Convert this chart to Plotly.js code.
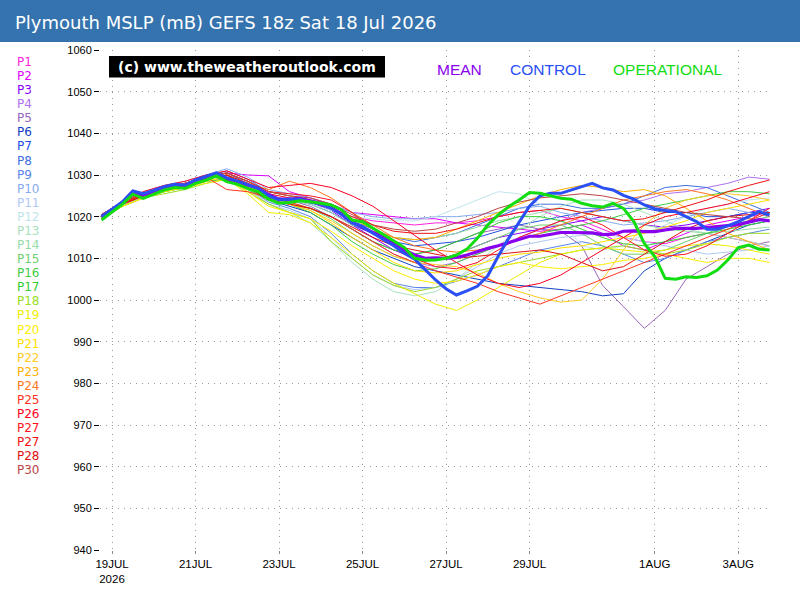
<!DOCTYPE html>
<html>
<head>
<meta charset="utf-8">
<script src="https://cdn.plot.ly/plotly-3.0.1.min.js"></script>
<style>html,body{margin:0;padding:0;background:#fff;}#chart{width:800px;height:600px;}</style>
</head>
<body>
<div id="chart"></div>
<script>
// ---- Data ----
var titleText = "Plymouth MSLP (mB) GEFS 18z Sat 18 Jul 2026";
var tickVals = ["2026-07-19 00:00","2026-07-21 00:00","2026-07-23 00:00","2026-07-25 00:00","2026-07-27 00:00","2026-07-29 00:00","2026-08-01 00:00","2026-08-03 00:00"];
var tickText = ["19JUL<br>2026","21JUL","23JUL","25JUL","27JUL","29JUL","1AUG","3AUG"];

var memberNames = ["P1","P2","P3","P4","P5","P6","P7","P8","P9","P10","P11","P12","P13","P14","P15","P16","P17","P18","P19","P20","P21","P22","P23","P24","P25","P26","P27","P27","P28","P30"];
var memberColors = ["#ff22dd","#dd00ff","#8800ff","#b070f0","#9966bb","#1040c0","#2050e0","#4070e0","#5a86ea","#88aaf0","#b0c8f4","#c0e4ec","#a8e0c0","#98dca8","#70d070","#44cc44","#33cc33","#99dd22","#eeee00","#ffee00","#ffe000","#ffcc22","#ffb000","#ff7722","#ff3322","#ff0022","#ff1122","#ee1111","#dd1111","#bb4444"];

// members: 12-hourly from 18 Jul 18z to 3 Aug 18z (33 values)
var P1  = [1020.5,1023.5,1025.5,1027,1028,1029.5,1030.5,1028.5,1026,1025,1024,1022,1020,1019,1018.5,1018,1018.5,1018.5,1019,1020,1021,1021.5,1020,1019,1017,1015,1014,1013.5,1015,1016,1015,1014,1013];
var P2  = [1020,1023,1025,1026.5,1027.5,1029,1030.5,1030,1029.8,1026,1024.5,1023,1021,1020.5,1020,1019.5,1019.5,1018.5,1018,1017.5,1017,1016.5,1017,1018,1016,1013,1012,1014,1016,1018,1019,1020,1021];
var P3  = [1020,1023,1025,1026.5,1027,1028.5,1029.5,1027,1024.5,1024,1023.5,1021.5,1018,1015,1012,1010,1009.5,1011,1013,1015,1016,1017,1018,1019,1020,1019,1018,1017.5,1018,1019,1020,1021,1022];
var P4  = [1019.5,1022.5,1025,1026,1027,1028.5,1029,1027,1024,1023,1022,1020,1017,1014,1011,1009,1008,1009,1011,1013,1015,1017,1019,1021,1022,1023,1024,1025.5,1026,1027,1028,1029.5,1029];
var P5  = [1020,1023,1025.5,1027,1027.5,1029,1030,1028,1025,1024,1022.5,1020,1017,1014,1012,1011,1012,1014,1016,1017,1018,1017,1016.5,1013,1003.5,998.4,993.2,997.5,1005,1008,1011,1013,1014];
var P6  = [1020,1023,1025,1026.5,1027.5,1029,1030,1027.5,1024,1022.5,1021,1018,1015,1012,1010,1008,1007,1006,1005,1004,1003.5,1003,1002.5,1002,1001,1001.5,1007,1010,1012,1014,1016,1018,1019];
var P7  = [1020.5,1023.5,1025.5,1027,1028,1029.5,1030.5,1028,1025,1024,1023,1021,1018,1016,1014,1013,1013.5,1014,1015,1016.5,1018,1019,1020,1021,1021.5,1022,1022,1021,1021,1020,1020,1021,1021];
var P8  = [1020,1023,1025.5,1027,1028,1029.5,1031,1029,1026,1025,1024,1022,1019,1017,1015,1014,1015,1016,1018,1020,1022,1023,1023,1022,1022,1023,1025,1027,1027.5,1027,1025,1023,1021];
var P9  = [1019.5,1022.5,1024.5,1026,1027,1028.5,1029.5,1027,1023.5,1022,1020,1016,1011,1007,1004,1003,1003,1004.5,1006,1008,1010,1012,1013,1014,1013,1011,1009,1010,1012,1014,1015,1016,1017];
var P10 = [1020.5,1023.5,1026,1027.5,1028.5,1030,1031.5,1029.5,1026.5,1025.5,1024.5,1023,1021,1020,1019.5,1019.5,1020,1020,1020.5,1021,1022,1022.5,1021,1020,1019,1018,1018.5,1019,1020,1021,1022,1021,1020];
var P11 = [1020,1023,1025,1026.5,1027.5,1029,1030,1027,1023,1021.5,1019.5,1015,1010,1006,1003.5,1002.5,1003,1005,1008,1011,1013,1014,1015,1015.5,1016,1015,1014,1013,1012,1011,1011.5,1012,1013];
var P12 = [1020,1023,1025,1026.5,1027.5,1029,1030,1027.5,1025,1024,1023,1021.5,1020,1019.5,1019,1019,1020,1022,1024,1026,1025.5,1023,1019,1013,1012,1013,1016,1018,1020,1022,1023,1024,1024.5];
var P13 = [1019.5,1022.5,1024.5,1026,1027,1028.5,1029.5,1026.5,1023,1021,1018.5,1014,1009,1005,1002,1001,1002,1005,1009,1013,1017,1020,1022.5,1024,1024,1023,1021,1019,1017,1016,1015,1014,1013];
var P14 = [1020,1023,1025,1026.5,1027.5,1029,1030,1028,1025,1024,1023,1021,1018,1016.5,1015,1014.5,1015,1016,1017.5,1019,1020,1021,1022,1021,1020,1019,1018,1017,1016.5,1016,1016.5,1017,1017.5];
var P15 = [1020,1023,1025,1026,1027,1028.5,1029.5,1027,1024.5,1023.5,1022,1019.5,1016,1013,1010.5,1009,1009.5,1011,1013,1015,1017,1018,1018,1016,1013,1011,1011,1012,1014,1016,1018,1019,1020];
var P16 = [1019.5,1022.5,1024.5,1026,1027,1028.5,1029,1026.5,1024,1023,1021,1018,1014,1011,1008.5,1007,1007.5,1009,1011,1013,1014.5,1016,1017,1018,1019,1020.5,1022,1023,1024,1025,1026,1026,1025.5];
var P17 = [1020,1023,1025,1026.5,1027.5,1029,1030,1027.5,1024.5,1023,1022,1020,1017,1014,1012,1011,1012,1014,1016,1018.5,1020,1020,1019,1017,1015,1013.5,1013,1014,1015,1016,1017,1018,1019];
var P18 = [1019.5,1022.5,1024.5,1025.5,1026.5,1028,1029,1026,1023,1021,1019.5,1014,1010,1006,1003.5,1002,1003,1005,1007,1008,1009,1010,1011,1012,1012.5,1013,1012,1011,1012,1013.5,1015,1016,1016];
var P19 = [1019.5,1022.5,1024.5,1026,1027,1028,1029,1025.5,1021,1020.5,1018.5,1015,1011,1007,1004,1001.5,999,997.5,1000,1003,1006,1009,1011,1012,1012.5,1012,1011.5,1012,1013,1013.5,1013,1012,1011];
var P20 = [1020,1022.5,1024.5,1026,1027,1028.5,1029.5,1026,1022.5,1021,1019.5,1016.5,1013,1010,1007,1005,1004,1004.5,1006,1008,1009,1008,1007.5,1008,1008.5,1009.5,1010,1011,1010,1009,1010,1010,1009];
var P21 = [1020,1023,1025,1026.5,1027.5,1029,1030,1027,1024,1023,1021.5,1018.5,1015,1012,1009,1007,1006.5,1007,1008.5,1010,1011,1011.5,1012.5,1013,1014,1015,1016,1017.5,1019,1021,1022,1023,1024];
var P22 = [1020,1023,1025,1026.5,1027.5,1029,1030,1027.5,1024.5,1023,1021.5,1019,1016,1013,1010.5,1009,1008.5,1008,1006.5,1004,1002,1000.5,999.5,1000,1005,1012,1018,1022,1024,1025,1025.5,1025,1024];
var P23 = [1020,1023,1025.5,1027,1028,1029.5,1030.5,1028.5,1026,1025,1024,1022,1019.5,1017,1015,1014.5,1015,1017,1019,1021,1023,1025,1026.5,1027.5,1027,1026,1026.5,1025,1022,1019,1016,1014,1012];
var P24 = [1020.5,1023.5,1025.5,1027,1028,1029.5,1030,1028,1026.5,1028.5,1027,1024.5,1021,1018,1015,1013,1012,1011.5,1012,1013,1014.5,1016,1018,1020,1022,1024,1025,1026,1026.5,1025.5,1024,1022,1020];
var P25 = [1020,1023,1025.5,1027,1028,1029.5,1026.5,1026,1024.5,1023.5,1022,1020,1017,1014,1011,1009,1007,1005.5,1004,1002,1000.5,999,1001,1003,1005,1007,1009,1011,1013,1015,1017,1019,1021];
var P26 = [1020.5,1023.5,1026,1027.5,1028.5,1030,1031,1029,1027,1027.5,1028,1027,1025,1022.5,1019,1015.5,1012,1009,1006,1004,1003,1004,1006,1009,1012,1015,1018,1020,1021,1022,1023,1024.5,1026];
var P27a= [1020,1023,1025.5,1027,1028,1029.5,1030.5,1028.5,1026,1025.5,1025,1024,1021,1017,1013,1010,1008,1007.5,1009,1012,1015,1017,1019,1020,1018,1015,1012,1010.5,1011,1013,1016,1019,1022];
var P27b= [1020,1023,1025,1026.5,1027.5,1029,1030,1028,1025.5,1024.5,1023.5,1022,1020,1018,1016.5,1016,1016,1017,1018.5,1020,1021,1021.5,1022,1021,1020,1019,1019.5,1021,1022.5,1024,1026,1027.5,1028.8];
var P28 = [1020,1023,1025,1026.5,1027.5,1029,1030,1027,1024,1023,1022,1020,1017.5,1015,1013,1012,1011,1010,1010.5,1011,1011.5,1012,1011,1009,1007,1008,1011,1014,1017,1019,1020,1020.5,1021];
var P30 = [1020.5,1023.5,1025.5,1027,1028,1029.5,1030.5,1028.5,1026,1025,1024.5,1023,1020.5,1018,1017,1016.5,1017,1018.5,1020,1022,1023.5,1024.5,1025,1025.5,1025,1024,1023,1022,1021,1020.5,1020,1019.5,1019];
var members = [P1,P2,P3,P4,P5,P6,P7,P8,P9,P10,P11,P12,P13,P14,P15,P16,P17,P18,P19,P20,P21,P22,P23,P24,P25,P26,P27a,P27b,P28,P30];

// thick lines: 6-hourly (65 values)
var meanVals = [1020,1021.6,1023.3,1026,1025.2,1026,1026.9,1027.5,1027.4,1028.5,1029.3,1030.3,1029,1028.4,1027.5,1026.8,1025.3,1024.2,1024.2,1024.4,1023.8,1023.2,1022.3,1020.6,1018.6,1017.5,1016.2,1015,1013.4,1012,1010.8,1010,1010.1,1010,1010.2,1010.8,1011.6,1012.4,1013,1013.8,1014.6,1015.3,1015.3,1015.8,1016.2,1016.2,1016.2,1016.1,1015.7,1015.8,1016.5,1016.6,1016.4,1016.4,1016.8,1017.2,1017.2,1017.2,1017.4,1017.6,1017.9,1018.1,1018.7,1019.3,1019];
var controlVals = [1020,1021.8,1023.6,1026.2,1025.5,1026.3,1027.2,1027.8,1027.6,1028.8,1029.6,1030.5,1029.3,1028.6,1027.7,1026.8,1025,1024,1024.2,1024.2,1023.5,1023,1022,1020.5,1018.5,1017.6,1016,1014.5,1013,1011.2,1009.8,1007.3,1004.8,1002.7,1001.2,1002.2,1003.3,1005.8,1010.5,1014.8,1018.5,1022.5,1025,1025.6,1025.6,1026.4,1027.2,1028,1026.9,1026.4,1025.1,1024.2,1022.8,1021.9,1021.5,1021.2,1020,1018.8,1017,1017,1017.8,1018.8,1020,1021.2,1020.4];
var operVals = [1019.2,1021,1023,1025.4,1024.4,1025.4,1026.4,1027,1026.8,1028,1028.8,1029.8,1028.4,1027.8,1026.8,1026,1024.2,1023.2,1023.4,1023.8,1023.6,1023.2,1022.8,1021.6,1019.2,1018.8,1017.2,1015.6,1014,1012.6,1010,1009.6,1009.6,1010,1010.8,1012.2,1014.8,1018,1020.4,1022.4,1024,1025.8,1025.6,1025,1024.4,1024.2,1023.2,1022.6,1022.3,1023.2,1022,1018.8,1013.6,1010.4,1005.2,1005,1005.6,1005.4,1005.8,1007.2,1009.6,1012.6,1013.2,1012.2,1012];

// ---- time axis values ----
function fmt(d){
  function p(n){return (n<10?'0':'')+n;}
  return d.getUTCFullYear()+'-'+p(d.getUTCMonth()+1)+'-'+p(d.getUTCDate())+' '+p(d.getUTCHours())+':00';
}
function times(stepHours, n){
  var t0 = Date.UTC(2026,6,18,18,0,0), out=[];
  for(var i=0;i<n;i++){ out.push(fmt(new Date(t0 + i*stepHours*3600000))); }
  return out;
}
var t12 = times(12, 33), t6 = times(6, 65);

// ---- traces ----
var traces = [];
members.forEach(function(v,i){
  traces.push({x:t12, y:v, type:'scatter', mode:'lines', name:memberNames[i],
    line:{color:memberColors[i], width:1}, hoverinfo:'skip'});
});
traces.push({x:t6, y:meanVals, type:'scatter', mode:'lines', name:'MEAN', line:{color:'#8800ee', width:3.2}});
traces.push({x:t6, y:controlVals, type:'scatter', mode:'lines', name:'CONTROL', line:{color:'#2a4ff5', width:3}});
traces.push({x:t6, y:operVals, type:'scatter', mode:'lines', name:'OPERATIONAL', line:{color:'#11dd11', width:3}});

// ---- layout ----
var L = 100, R = 30, T = 50, B = 50, W = 800, H = 600;
var pw = W - L - R, ph = H - T - B;
function px(x){ return (x - L)/pw; }
function py(y){ return (H - B - y)/ph; }

var annotations = [];
memberNames.forEach(function(n,i){
  annotations.push({xref:'paper', yref:'paper', x:px(16), y:py(62 + i*14.08), xanchor:'left', yanchor:'middle',
    text:n, showarrow:false, borderpad:0, font:{family:'DejaVu Sans', size:12, color:memberColors[i]}});
});
annotations.push({xref:'paper', yref:'paper', x:px(247), y:py(66.5), xanchor:'center', yanchor:'middle',
  text:'(c) www.theweatheroutlook.com', showarrow:false, font:{family:'DejaVu Sans', size:14, color:'#ffffff', weight:'bold'}});
annotations.push({xref:'paper', yref:'paper', x:px(459), y:py(69.5), xanchor:'center', yanchor:'middle',
  text:'MEAN', showarrow:false, font:{family:'Liberation Sans', size:15.5, color:'#8800ee'}});
annotations.push({xref:'paper', yref:'paper', x:px(547.5), y:py(69.5), xanchor:'center', yanchor:'middle',
  text:'CONTROL', showarrow:false, font:{family:'Liberation Sans', size:15.5, color:'#2a4ff5'}});
annotations.push({xref:'paper', yref:'paper', x:px(667), y:py(69.5), xanchor:'center', yanchor:'middle',
  text:'OPERATIONAL', showarrow:false, font:{family:'Liberation Sans', size:15.5, color:'#11dd11'}});

var shapes = [
  {type:'rect', xref:'paper', yref:'paper', x0:px(0), x1:px(800), y0:py(42), y1:py(0), fillcolor:'#3473ae', line:{width:0}, layer:'below'},
  {type:'rect', xref:'paper', yref:'paper', x0:px(109), x1:px(385), y0:py(77.5), y1:py(56), fillcolor:'#000000', line:{width:0}, layer:'above'}
];

var gridDash = '1px,5px';
var layout = {
  width:W, height:H,
  margin:{l:L, r:R, t:T, b:B, pad:0},
  paper_bgcolor:'#ffffff', plot_bgcolor:'#ffffff',
  showlegend:false,
  title:{text:titleText, x:15/W, xanchor:'left', xref:'container', y:1-23/H, yanchor:'middle', yref:'container',
    font:{family:'DejaVu Sans', size:18, color:'#ffffff'}},
  xaxis:{type:'date', range:['2026-07-18 17:06','2026-08-03 18:15'],
    tickmode:'array', tickvals:tickVals, ticktext:tickText,
    showgrid:true, gridcolor:'#999999', griddash:gridDash, gridwidth:1,
    zeroline:false, showline:false, ticks:'outside', ticklen:3, tickcolor:'#888',
    tickfont:{family:'Liberation Sans', size:11.5, color:'#000'}},
  yaxis:{range:[940,1060], tickmode:'linear', tick0:940, dtick:10,
    showgrid:true, gridcolor:'#999999', griddash:gridDash, gridwidth:1,
    zeroline:false, showline:false, ticks:'outside', ticklen:5, tickcolor:'#000',
    tickfont:{family:'Liberation Sans', size:11, color:'#000'}},
  shapes:shapes,
  annotations:annotations
};

Plotly.newPlot('chart', traces, layout, {staticPlot:true, displayModeBar:false});
</script>
</body>
</html>
